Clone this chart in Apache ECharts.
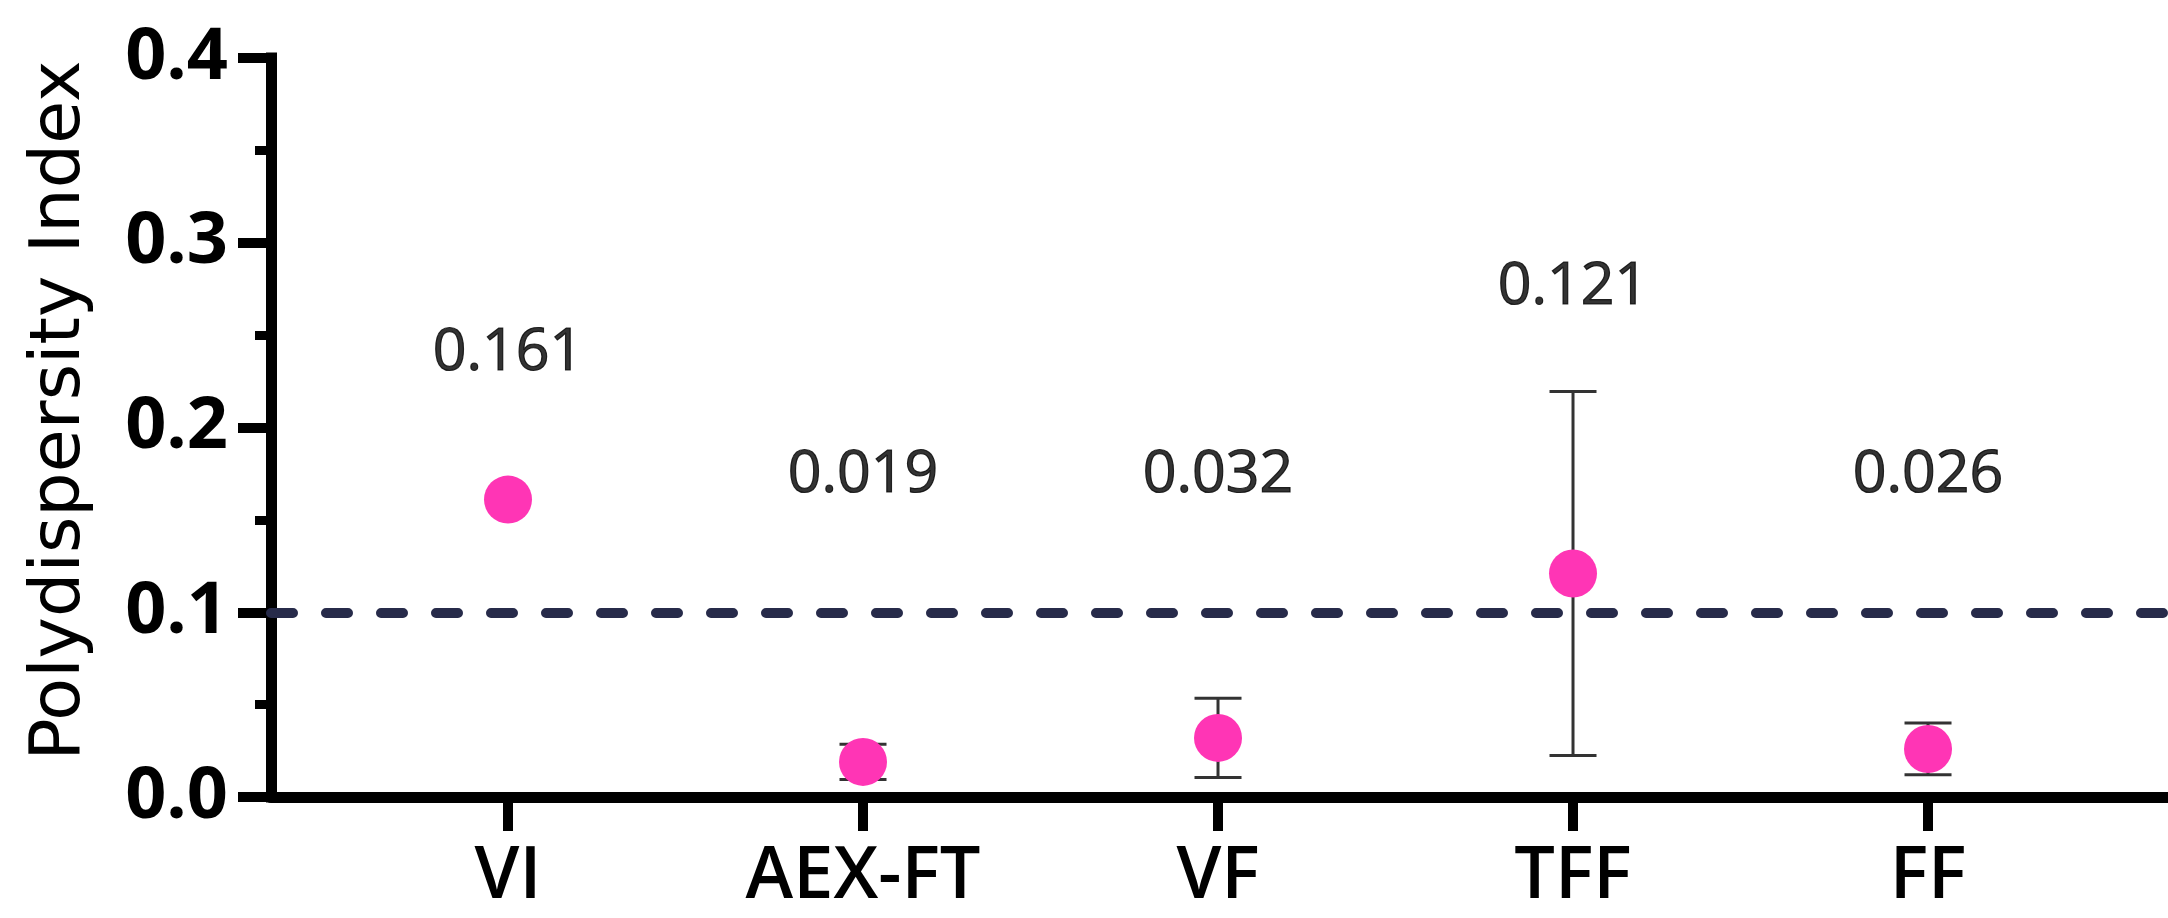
<!DOCTYPE html>
<html>
<head>
<meta charset="utf-8">
<script src="https://cdn.jsdelivr.net/npm/echarts@6/dist/echarts.min.js"></script>
<style>
html,body{margin:0;padding:0;background:#fff;}
#chart{width:2168px;height:918px;}
</style>
</head>
<body>
<div id="chart"></div>
<script>
// ---- data ----
var categories = ['VI', 'AEX-FT', 'VF', 'TFF', 'FF'];
var means = [0.161, 0.019, 0.032, 0.121, 0.026];
var errors = [0, 0.0095, 0.0215, 0.0985, 0.014];
var labelY = [0.240, 0.174, 0.174, 0.276, 0.174];   // annotation heights (data units)
var threshold = 0.1;
var yTicks = [0, 0.1, 0.2, 0.3, 0.4];

// ---- build series data ----
var idx = categories.map(function (c, i) { return i; });
var pointData = idx.map(function (i) { return [i, means[i]]; });
var errData = idx.filter(function (i) { return errors[i] > 0; })
  .map(function (i) { return [i, means[i] - errors[i], means[i] + errors[i]]; });
var labelData = idx.map(function (i) { return [i, labelY[i]]; });

var chart = echarts.init(document.getElementById('chart'), null, {renderer: 'canvas'});
chart.setOption({
  animation: false,
  backgroundColor: '#ffffff',
  grid: {left: 271, top: 58, right: 0, bottom: 121, outerBoundsMode: 'none'},
  xAxis: {
    type: 'value',
    min: -0.6676,
    max: 4.676,
    splitLine: {show: false},
    axisLine: {show: true, onZero: false, lineStyle: {color: '#000', width: 11}},
    axisTick: {show: true, customValues: idx, length: 34, lineStyle: {color: '#000', width: 10}},
    axisLabel: {
      show: true, customValues: idx, margin: 44,
      formatter: function (v) { return categories[Math.round(v)]; },
      fontFamily: 'Open Sans', fontWeight: 600, fontSize: 72, color: '#000'
    }
  },
  yAxis: {
    type: 'value',
    min: yTicks[0],
    max: yTicks[yTicks.length - 1],
    interval: 0.1,
    name: 'Polydispersity Index',
    nameLocation: 'middle',
    nameGap: 175,
    nameTextStyle: {fontFamily: 'DejaVu Sans', fontSize: 70, color: '#000', padding: [0, 0, 0, 34]},
    splitLine: {show: false},
    axisLine: {show: true, onZero: false, lineStyle: {color: '#000', width: 11, cap: 'square'}},
    axisTick: {show: true, length: 33, lineStyle: {color: '#000', width: 10}},
    minorTick: {show: true, splitNumber: 2, length: 16, lineStyle: {color: '#000', width: 9}},
    axisLabel: {
      margin: 43,
      formatter: function (v) { return v.toFixed(1); },
      fontFamily: 'Open Sans', fontWeight: 'bold', fontSize: 72, color: '#000'
    }
  },
  series: [
    {
      type: 'custom',
      z: 1,
      data: errData,
      renderItem: function (params, api) {
        var x = api.value(0), lo = api.value(1), hi = api.value(2);
        var pt = api.coord([x, hi]), pb = api.coord([x, lo]);
        var hw = 23.5;
        var st = {stroke: '#333333', lineWidth: 3};
        return {
          type: 'group',
          children: [
            {type: 'line', shape: {x1: pt[0], y1: pt[1], x2: pb[0], y2: pb[1]}, style: st},
            {type: 'line', shape: {x1: pt[0] - hw, y1: pt[1], x2: pt[0] + hw, y2: pt[1]}, style: st},
            {type: 'line', shape: {x1: pb[0] - hw, y1: pb[1], x2: pb[0] + hw, y2: pb[1]}, style: st}
          ]
        };
      }
    },
    {
      type: 'scatter',
      z: 3,
      data: pointData,
      symbol: 'circle',
      symbolSize: 48,
      itemStyle: {color: '#FF35B5', opacity: 1},
      emphasis: {disabled: true},
      markLine: {
        silent: true,
        symbol: ['none', 'none'],
        label: {show: false},
        lineStyle: {color: '#272B4A', width: 10, type: [22, 33], cap: 'round'},
        data: [{yAxis: threshold}]
      }
    },
    {
      type: 'scatter',
      z: 4,
      data: labelData,
      symbolSize: 1,
      itemStyle: {color: 'rgba(0,0,0,0)'},
      emphasis: {disabled: true},
      label: {
        show: true,
        position: 'inside',
        formatter: function (p) { return means[p.dataIndex].toFixed(3); },
        fontFamily: 'Open Sans', fontWeight: 'normal', fontSize: 59,
        color: '#000', textBorderColor: '#000', textBorderWidth: 1.2
      }
    }
  ]
});
</script>
</body>
</html>
